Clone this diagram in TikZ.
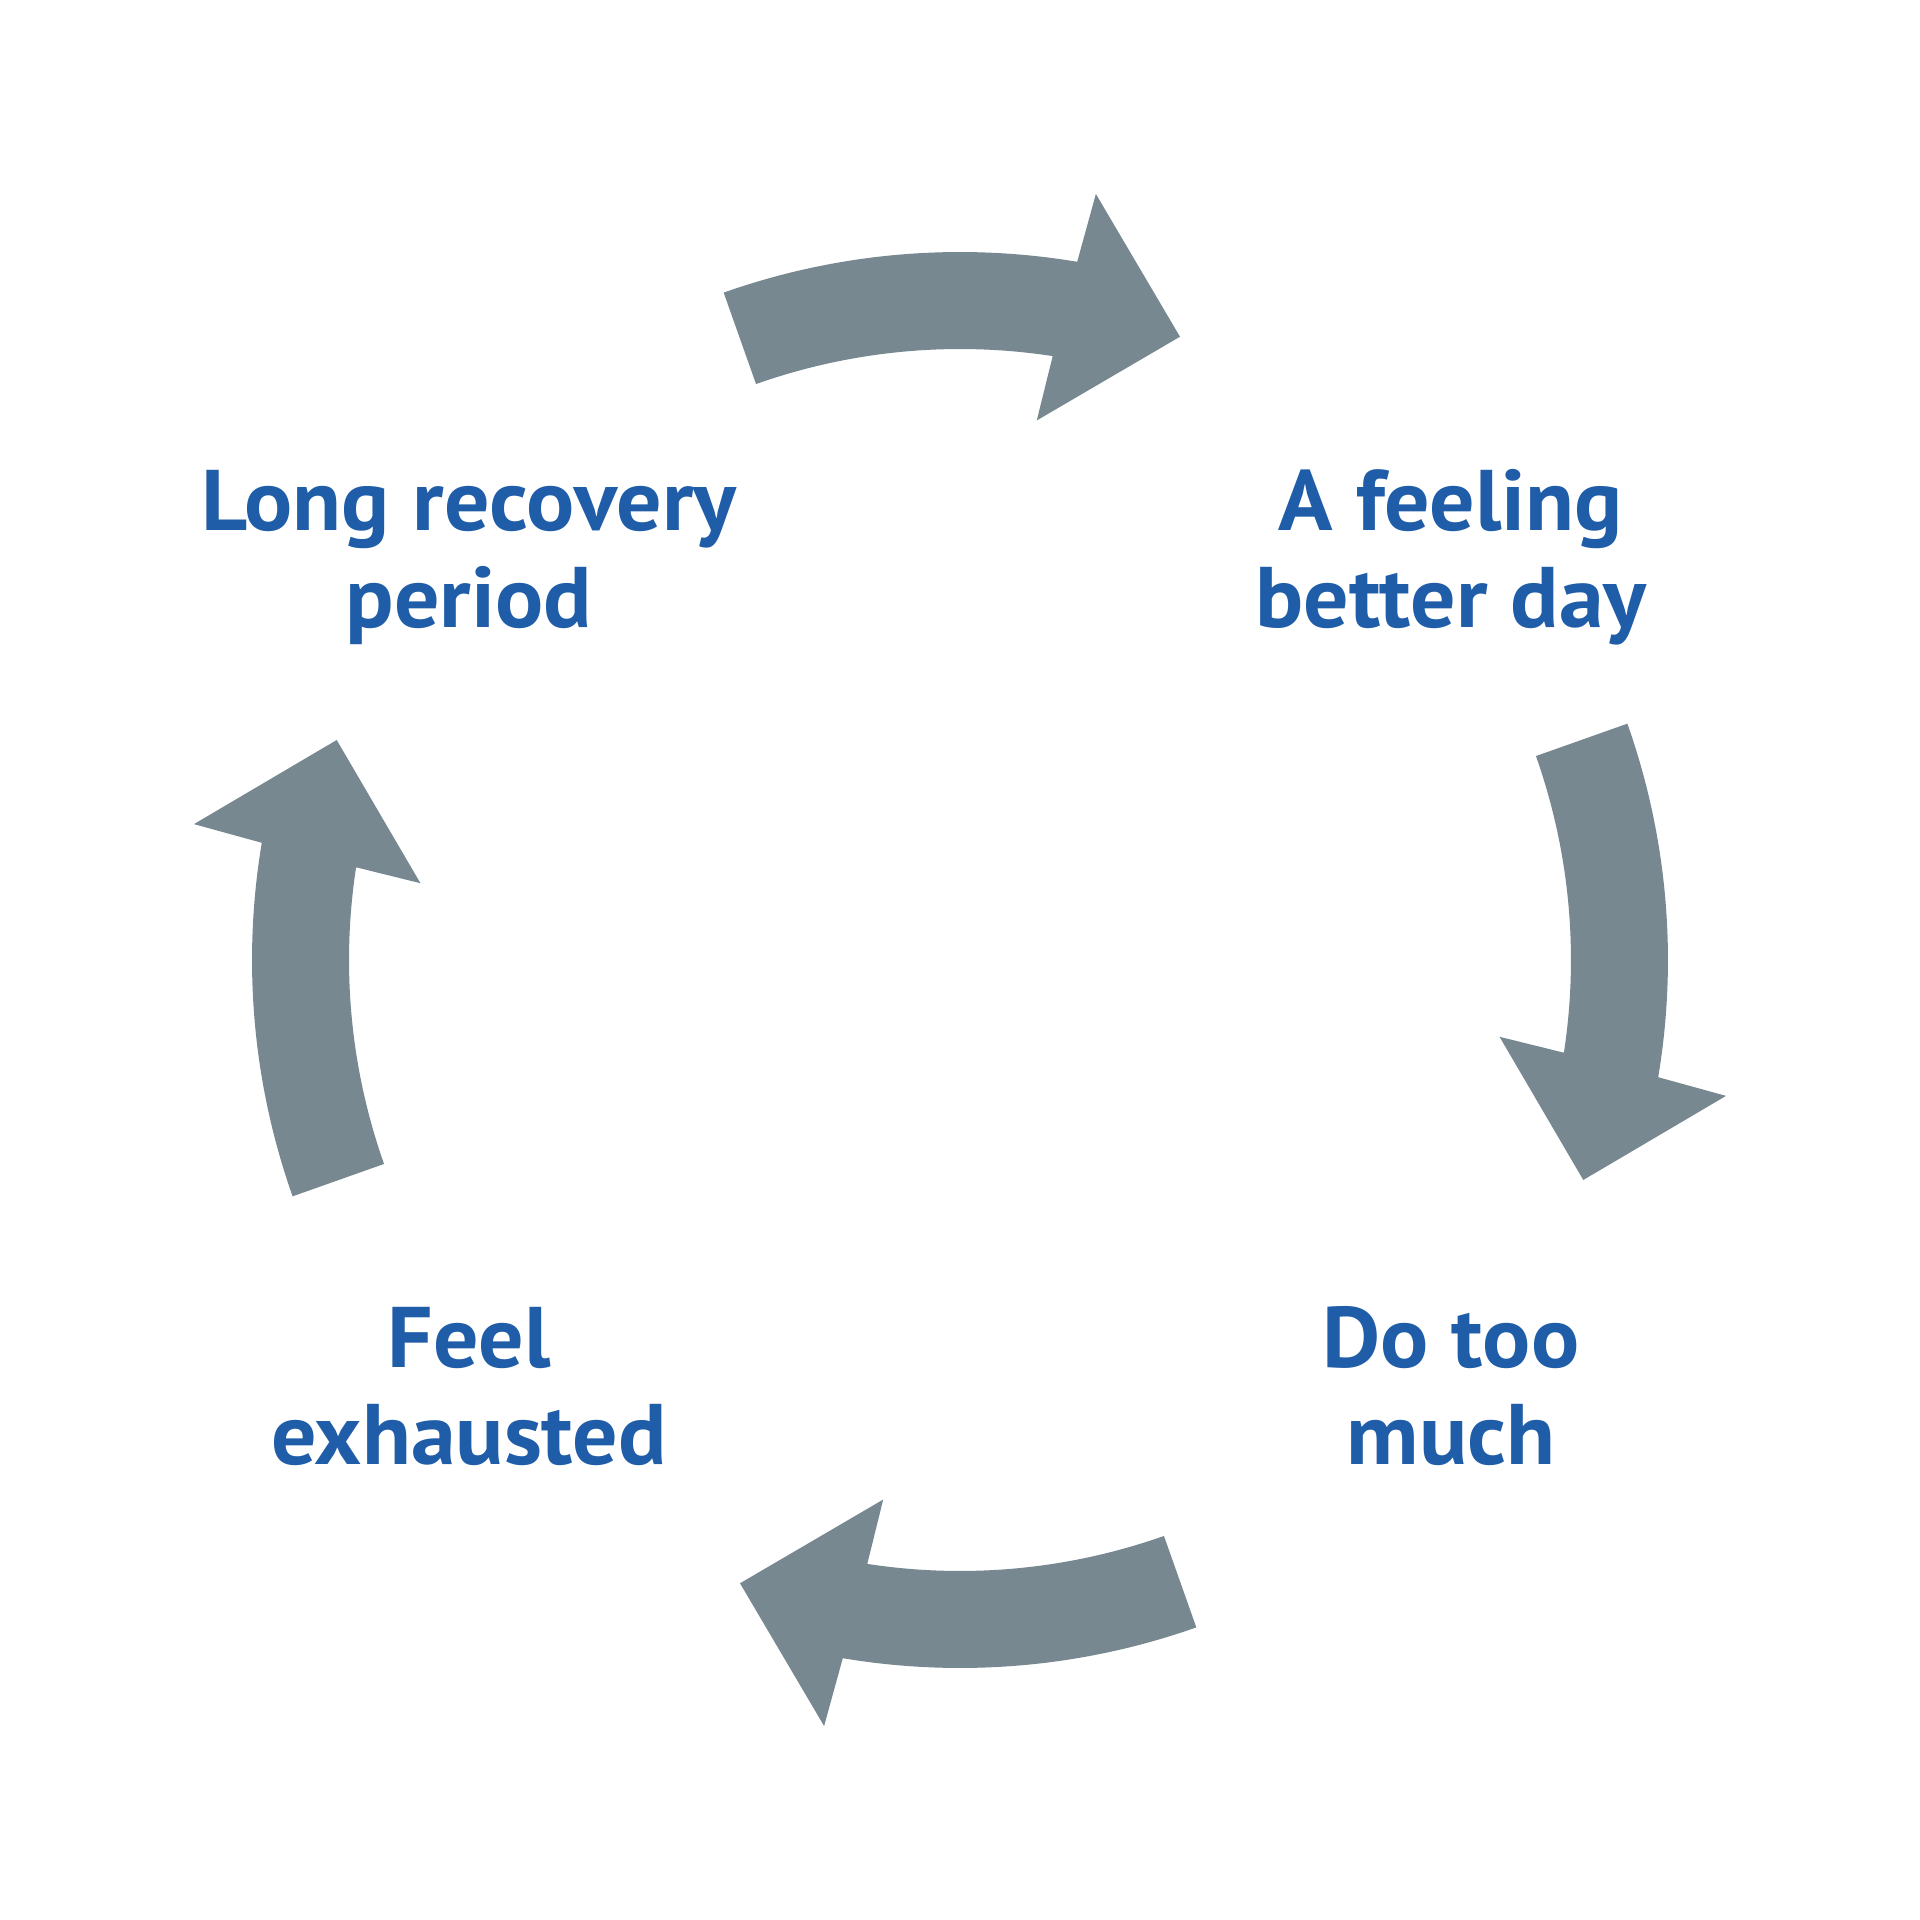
\documentclass[tikz,border=0pt]{standalone}
\usepackage{fontspec}
\setmainfont{PT Sans}[FakeStretch=1.045]
\definecolor{txtblue}{RGB}{32,93,168}
\definecolor{arrowgray}{RGB}{119,136,145}
\begin{document}
\begin{tikzpicture}[x=1pt,y=1pt,
  cyclearrow/.style={fill=arrowgray, draw=none},
  lbl/.style={text=txtblue, font=\fontsize{86}{97}\selectfont\bfseries, anchor=base, inner sep=0pt}]
\fill[white] (-960,-960) rectangle (960,960);
\useasboundingbox (-960,-960) rectangle (960,960);
\foreach \k in {0,1,2,3}{
  \pgfmathsetmacro\o{-90*\k}
  \fill[cyclearrow] ({109.5+\o}:708) arc[start angle={109.5+\o}, end angle={80.47+\o}, radius=708]
    -- ({79.94+\o}:778) -- ({70.56+\o}:661) -- ({81.9+\o}:545) -- ({81.27+\o}:611)
    arc[start angle={81.27+\o}, end angle={109.5+\o}, radius=611] -- cycle;
}
\node[lbl] (lr1) at (-491,429) {Long recovery};
\node[lbl] (lr2) at (-491,332) {period};
\node[lbl] (fb1) at (491,429) {A feeling};
\node[lbl] (fb2) at (491,332) {better day};
\node[lbl] (dm1) at (491,-407) {Do too};
\node[lbl] (dm2) at (491,-504) {much};
\node[lbl] (fe1) at (-491,-407) {Feel};
\node[lbl] (fe2) at (-491,-504) {exhausted};
\end{tikzpicture}
\end{document}
